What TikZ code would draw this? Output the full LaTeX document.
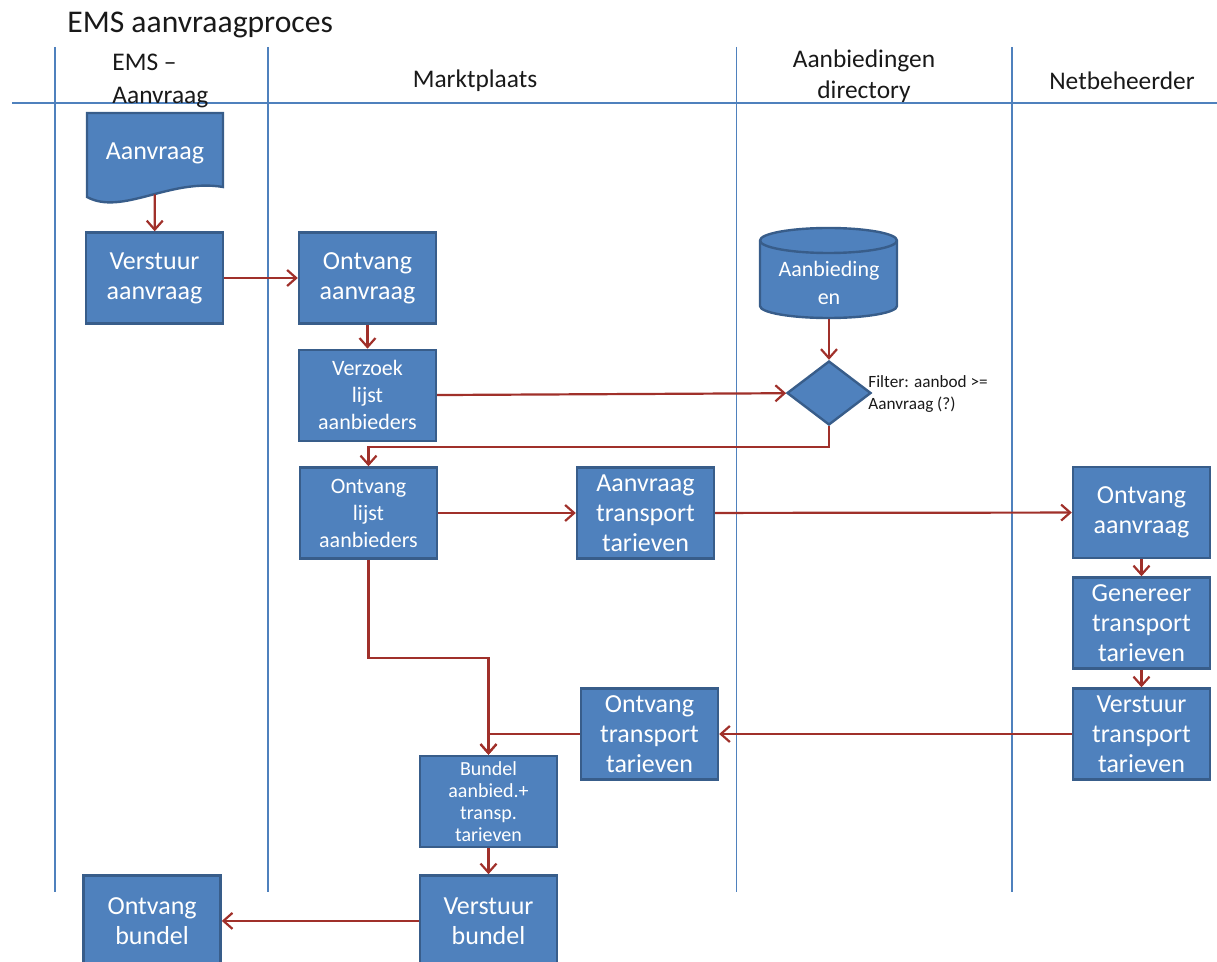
\documentclass[tikz,border=0pt]{standalone}
\usepackage{fontspec}
\setmainfont{Carlito}
\usetikzlibrary{arrows.meta, positioning, shapes.geometric, backgrounds}
\definecolor{emsBlue}{RGB}{79,129,189}
\definecolor{emsEdge}{RGB}{56,93,138}
\definecolor{emsRed}{RGB}{160,48,42}
\definecolor{emsText}{RGB}{25,25,25}
\tikzset{
    x=0.5pt,
    y=-0.5pt,
    ems_box/.style={
        rectangle,
        draw=emsEdge,
        fill=emsBlue,
        line width=1.2pt,
        text=white,
        minimum width=68.5pt,
        minimum height=45.5pt,
        inner xsep=2pt,
        inner ysep=0pt,
        align=center,
        font=\fontsize{13}{15}\selectfont
    },
    ems_smallbox/.style={
        ems_box,
        font=\fontsize{11}{13.5}\selectfont
    },
    ems_tinybox/.style={
        ems_box,
        font=\fontsize{10}{11}\selectfont
    },
    ems_decision/.style={
        diamond,
        draw=emsEdge,
        fill=emsBlue,
        line width=1.2pt,
        minimum width=42pt,
        minimum height=32pt,
        aspect=1.31,
        inner sep=0pt
    },
    ems_shape/.style={
        draw=emsEdge,
        fill=emsBlue,
        line width=1.2pt
    },
    ems_label/.style={
        text=white,
        align=center,
        inner sep=0pt
    },
    ems_header/.style={
        text=emsText,
        align=center,
        inner sep=0pt,
        font=\fontsize{12.7}{15.5}\selectfont
    },
    ems_lane/.style={
        draw=emsBlue,
        line width=0.8pt
    },
    ems_arrow/.style={
        -{Straight Barb[length=4.5pt, width=8pt]},
        draw=emsRed,
        line width=1.1pt
    }
}

\begin{document}
\begin{tikzpicture}
\useasboundingbox (0,0) rectangle (1217,962);

% --- Title and swimlanes ---
\node[ems_header, anchor=base west, font=\fontsize{15.8}{19}\selectfont] (Title) at (67,33) {EMS aanvraagproces};
\draw[ems_lane] (12,103) -- (1217,103);
\foreach \x in {55,268,736.5,1012}
    \draw[ems_lane] (\x,47) -- (\x,892);

\node[ems_header, align=left, anchor=west, font=\fontsize{12.7}{16.5}\selectfont] (LaneEMS) at (112,81) {EMS –\\Aanvraag};
\node[ems_header] (LaneMarkt) at (475,81) {Marktplaats};
\node[ems_header] (LaneDir) at (864,76) {Aanbiedingen\\directory};
\node[ems_header] (LaneNet) at (1122,81) {Netbeheerder};

% --- Column 1 (EMS - Aanvraag) ---
\node[ems_label, minimum width=68.5pt, minimum height=40.5pt, font=\fontsize{13}{15}\selectfont] (DocAanvraag) at (155,153.5) {Aanvraag};
\node[ems_box] (VerstuurAanvraag) at (154.5,278) {Verstuur\\aanvraag};

% --- Column 2 (Marktplaats) ---
\node[ems_box] (OntvangAanvraag) at (367.5,278) {Ontvang\\aanvraag};
\node[ems_smallbox, below=12pt of OntvangAanvraag] (VerzoekLijst) {Verzoek\\lijst\\aanbieders};
\node[ems_smallbox] (OntvangLijst) at (368.5,513) {Ontvang\\lijst\\aanbieders};
\node[ems_box] (AanvraagTransport) at (645.5,513) {Aanvraag\\transport\\tarieven};
\node[ems_box] (OntvangTransport) at (649.5,734) {Ontvang\\transport\\tarieven};
\node[ems_tinybox] (Bundel) at (488.5,801.5) {Bundel\\aanbied.+\\transp.\\tarieven};
\node[ems_box, below=13pt of Bundel] (VerstuurBundel) {Verstuur\\bundel};
\node[ems_box, left=98.5pt of VerstuurBundel] (OntvangBundel) {Ontvang\\bundel};

% --- Column 3 (Aanbiedingen directory) ---
\node[ems_label, minimum width=68.5pt, minimum height=36pt, font=\fontsize{11}{14}\selectfont] (Aanbiedingen) at (829,282.5) {Aanbieding\\en};
\node[ems_decision] (Filter) at (829,393) {};
\node[anchor=west, align=left, inner sep=0pt, text=emsText, font=\fontsize{8.6}{11}\selectfont] (FilterLabel) at (868,394) {Filter: aanbod >=\\Aanvraag (?)};

% --- Column 4 (Netbeheerder) ---
\node[ems_box] (OntvangNet) at (1141.5,512.5) {Ontvang\\aanvraag};
\node[ems_box] (Genereer) at (1141.5,623) {Genereer\\transport\\tarieven};
\node[ems_box] (VerstuurTransport) at (1141.5,734) {Verstuur\\transport\\tarieven};

% --- Document and store outlines ---
\begin{scope}[on background layer]
\draw[ems_shape] (87,113) -- (223,113) -- (223,187) .. controls (170,178) and (122,216) .. (87,197) -- cycle;
\draw[ems_shape] (760,240.5) -- (760,306) arc[start angle=180, end angle=0, x radius=68.5, y radius=12] -- (897,240.5) arc[start angle=0, end angle=-180, x radius=68.5, y radius=12.5] -- cycle;
\draw[ems_shape, fill=none] (760,240.5) arc[start angle=180, end angle=0, x radius=68.5, y radius=12.5];
\end{scope}

% --- Edges ---
\coordinate (FilterBend) at (368.5,447);
\coordinate (LijstBend) at (488.5,658);
\draw[ems_arrow] (DocAanvraag) -- (VerstuurAanvraag);
\draw[ems_arrow] (VerstuurAanvraag) -- (OntvangAanvraag);
\draw[ems_arrow] (OntvangAanvraag) -- (VerzoekLijst);
\draw[ems_arrow] (VerzoekLijst) -- (Filter);
\draw[ems_arrow] (Aanbiedingen) -- (Filter);
\draw[ems_arrow] (Filter.south) |- (FilterBend) -- (OntvangLijst.north);
\draw[ems_arrow] (OntvangLijst) -- (AanvraagTransport);
\draw[ems_arrow] (AanvraagTransport) -- (OntvangNet);
\draw[ems_arrow] (OntvangNet) -- (Genereer);
\draw[ems_arrow] (Genereer) -- (VerstuurTransport);
\draw[ems_arrow] (VerstuurTransport) -- (OntvangTransport);
\draw[ems_arrow] (OntvangLijst.south) |- (LijstBend) -- (Bundel.north);
\draw[ems_arrow] (OntvangTransport.west) -| (Bundel.north);
\draw[ems_arrow] (Bundel) -- (VerstuurBundel);
\draw[ems_arrow] (VerstuurBundel) -- (OntvangBundel);

\end{tikzpicture}
\end{document}
